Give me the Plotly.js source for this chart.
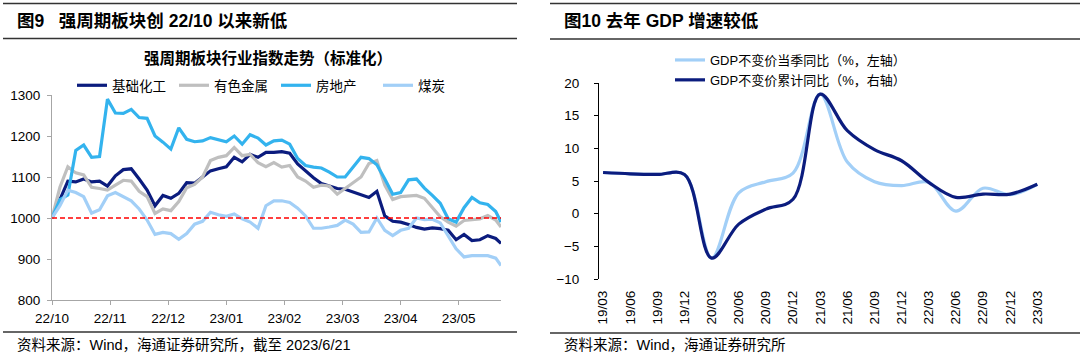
<!DOCTYPE html>
<html>
<head>
<meta charset="utf-8">
<script src="https://cdn.plot.ly/plotly-3.0.1.min.js"></script>
<style>
  html, body { margin: 0; padding: 0; background: #fff; }
  #chart { width: 1080px; height: 355px; }
</style>
</head>
<body>
<div id="chart"></div>
<script>
// ---------------- Data: left chart (trading-day index since 22/10) ----------------
const tradeDay = [0,3,6,9,12,15,18,21,24,27,30,33,36,39,42,45,48,51,54,57,60,63,66,69,72,75,78,81,84,87,90,93,96,99,102,105,108,111,114,117,120,123,126,129,132,135,138,141,144,147,150,153,156,159,162,165,168,170];
const seriesNames = ["基础化工", "有色金属", "房地产", "煤炭"];
const chemicals = [1000,1045,1090,1088,1095,1088,1090,1078,1103,1118,1120,1095,1068,1030,1055,1048,1060,1086,1085,1100,1115,1120,1125,1148,1137,1155,1148,1160,1160,1162,1158,1132,1115,1098,1084,1077,1072,1070,1064,1058,1050,1065,1005,992,990,984,977,973,976,974,970,947,960,945,947,957,950,938];
const metals = [1000,1075,1125,1110,1105,1075,1072,1068,1080,1092,1090,1065,1052,1011,1022,1018,1040,1074,1082,1100,1140,1148,1152,1172,1152,1155,1135,1125,1135,1124,1128,1100,1090,1075,1080,1078,1058,1072,1085,1100,1133,1140,1080,1045,1052,1053,1055,1048,1026,1003,990,980,994,996,998,1006,995,978];
const realEstate = [1000,1045,1056,1165,1178,1148,1150,1290,1256,1255,1265,1245,1243,1200,1185,1168,1220,1192,1186,1188,1196,1190,1186,1200,1180,1203,1195,1178,1188,1190,1180,1145,1128,1124,1122,1112,1100,1100,1125,1148,1145,1130,1095,1058,1062,1093,1095,1073,1055,1036,998,990,1025,1050,1037,1033,1016,990];
const coal = [1000,1030,1068,1062,1052,1012,1020,1054,1062,1052,1042,1022,995,960,965,962,948,962,985,992,1014,1008,1004,1010,998,990,975,1030,1042,1042,1038,1024,1005,975,975,978,982,995,985,965,966,1000,970,957,970,975,1000,996,997,988,955,925,905,908,908,908,902,884];
const baseline = 1000;
const leftTickDays = [0,22,44,66,88,110,132,154];
const leftTickLabels = ["22/10","22/11","22/12","23/01","23/02","23/03","23/04","23/05"];

// ---------------- Data: right chart (quarterly) ----------------
const quarters = ["19/03","19/06","19/09","19/12","20/03","20/06","20/09","20/12","21/03","21/06","21/09","21/12","22/03","22/06","22/09","22/12","23/03"];
const gdpQuarterly = [6.3,6.1,6.0,6.0,-6.8,3.2,4.9,6.2,18.3,7.9,4.9,4.3,4.8,0.4,3.9,2.9,4.5];
const gdpCumulative = [6.3,6.1,6.0,6.0,-6.8,-1.6,0.7,2.2,18.3,12.7,9.8,8.1,4.8,2.5,3.0,3.0,4.5];
const gdpNames = ["GDP不变价当季同比（%，左轴）", "GDP不变价累计同比（%，右轴）"];

// ---------------- Styling ----------------
const W = 1080, H = 355;
const fx = v => v / W;
const fy = v => 1 - v / H;
const LAT = "Liberation Sans, Arial, Noto Sans CJK SC, sans-serif";
const CJK = "Liberation Sans, Arial, Noto Sans CJK SC, sans-serif";
const navy = "#0B1C7E", gray = "#BFBFBF", sky = "#33B3EE", pale = "#A2CFF7";
const seriesColors = [navy, gray, sky, pale];
const leftSeries = [chemicals, metals, realEstate, coal];

const traces = [];
leftSeries.forEach((ys, k) => {
  traces.push({
    type: "scatter", mode: "lines", x: tradeDay, y: ys, name: seriesNames[k],
    xaxis: "x", yaxis: "y", legend: "legend",
    line: { color: seriesColors[k], width: 3.2 }, hoverinfo: "skip"
  });
});
traces.push({
  type: "scatter", mode: "lines", x: [tradeDay[0], tradeDay[tradeDay.length - 1]], y: [baseline, baseline],
  xaxis: "x", yaxis: "y", showlegend: false,
  line: { color: "#FF0000", width: 1.5, dash: "5px,3px" }, hoverinfo: "skip"
});
const qIdx = quarters.map((_, i) => i);
traces.push({
  type: "scatter", mode: "lines", x: qIdx, y: gdpQuarterly, name: gdpNames[0],
  xaxis: "x2", yaxis: "y2", legend: "legend2",
  line: { color: pale, width: 3.2, shape: "spline", smoothing: 1 }, hoverinfo: "skip"
});
traces.push({
  type: "scatter", mode: "lines", x: qIdx, y: gdpCumulative, name: gdpNames[1],
  xaxis: "x2", yaxis: "y2", legend: "legend2",
  line: { color: navy, width: 3.2, shape: "spline", smoothing: 1 }, hoverinfo: "skip"
});

const y2dom = [fy(279), fy(83)];
const y2range = [-10, 20];
const zeroPos = y2dom[0] + (0 - y2range[0]) / (y2range[1] - y2range[0]) * (y2dom[1] - y2dom[0]);
const x2range = [-0.15, 16.1];

const axisGray = "#A6A6A6";
const tickFont = { family: LAT, size: 13.5, color: "#000" };

const layout = {
  width: W, height: H,
  margin: { l: 0, r: 0, t: 0, b: 0 },
  paper_bgcolor: "#fff", plot_bgcolor: "rgba(0,0,0,0)",
  font: { family: CJK, color: "#000" },
  xaxis: {
    domain: [fx(52), fx(501)], range: [0, 170], anchor: "y",
    tickmode: "array", tickvals: leftTickDays, ticktext: leftTickLabels,
    ticks: "outside", ticklen: 4, tickcolor: axisGray, tickwidth: 1,
    showline: true, linecolor: axisGray, linewidth: 1,
    showgrid: false, zeroline: false, tickfont: tickFont, ticklabelstandoff: 2
  },
  yaxis: {
    domain: [fy(300), fy(95)], range: [800, 1300], anchor: "x",
    tickmode: "linear", tick0: 800, dtick: 100,
    ticks: "outside", ticklen: 4, tickcolor: axisGray, tickwidth: 1,
    showline: true, linecolor: axisGray, linewidth: 1,
    showgrid: false, zeroline: false, tickfont: tickFont, ticklabelstandoff: 4
  },
  xaxis2: {
    domain: [fx(599), fx(1040)], range: x2range, anchor: "y2",
    tickmode: "array", tickvals: qIdx, ticktext: quarters, tickangle: -90,
    ticks: "", showline: false, showgrid: false, zeroline: false,
    tickfont: tickFont, ticklabelstandoff: 8
  },
  xaxis3: {
    domain: [fx(599), fx(1040)], range: x2range, overlaying: "x2", anchor: "free", position: zeroPos,
    tickmode: "array", tickvals: qIdx, showticklabels: false,
    ticks: "outside", ticklen: 4, tickcolor: "#000", tickwidth: 1,
    showline: true, linecolor: "#000", linewidth: 1, showgrid: false, zeroline: false
  },
  yaxis2: {
    domain: y2dom, range: y2range, anchor: "x2",
    tickmode: "linear", tick0: -10, dtick: 5,
    ticks: "outside", ticklen: 4, tickcolor: "#000", tickwidth: 1,
    showline: true, linecolor: "#000", linewidth: 1,
    showgrid: false, zeroline: false, tickfont: tickFont, ticklabelstandoff: 12
  },
  legend: {
    orientation: "h", x: fx(72), xanchor: "left", y: fy(70), yanchor: "top",
    font: { family: CJK, size: 13.5, color: "#000" }, bgcolor: "rgba(0,0,0,0)",
    traceorder: "normal", entrywidth: 57, entrywidthmode: "pixels", itemclick: false
  },
  legend2: {
    orientation: "v", x: fx(670), xanchor: "left", y: fy(45), yanchor: "top",
    font: { family: CJK, size: 13, color: "#000" }, bgcolor: "rgba(0,0,0,0)",
    traceorder: "normal", tracegroupgap: 0, itemclick: false
  },
  shapes: [
    { type: "line", xref: "paper", yref: "paper", x0: fx(3), x1: fx(517), y0: fy(3.5), y1: fy(3.5), line: { color: "#333", width: 1.6 } },
    { type: "line", xref: "paper", yref: "paper", x0: fx(3), x1: fx(517), y0: fy(38.5), y1: fy(38.5), line: { color: "#333", width: 1.4 } },
    { type: "line", xref: "paper", yref: "paper", x0: fx(3), x1: fx(517), y0: fy(332), y1: fy(332), line: { color: "#333", width: 1.4 } },
    { type: "line", xref: "paper", yref: "paper", x0: fx(550), x1: fx(1080), y0: fy(3.5), y1: fy(3.5), line: { color: "#333", width: 1.6 } },
    { type: "line", xref: "paper", yref: "paper", x0: fx(550), x1: fx(1080), y0: fy(39), y1: fy(39), line: { color: "#333", width: 1.4 } },
    { type: "line", xref: "paper", yref: "paper", x0: fx(550), x1: fx(1080), y0: fy(333), y1: fy(333), line: { color: "#333", width: 1.4 } }
  ],
  annotations: [
    { xref: "paper", yref: "paper", x: fx(15), y: fy(21), xanchor: "left", yanchor: "middle", showarrow: false,
      text: "<b>图9   强周期板块创 22/10 以来新低</b>", font: { family: CJK, size: 17.5, color: "#000" } },
    { xref: "paper", yref: "paper", x: fx(562), y: fy(21), xanchor: "left", yanchor: "middle", showarrow: false,
      text: "<b>图10 去年 GDP 增速较低</b>", font: { family: CJK, size: 17.5, color: "#000" } },
    { xref: "paper", yref: "paper", x: fx(268), y: fy(58), xanchor: "center", yanchor: "middle", showarrow: false,
      text: "<b>强周期板块行业指数走势（标准化）</b>", font: { family: CJK, size: 15.5, color: "#000" } },
    { xref: "paper", yref: "paper", x: fx(15), y: fy(345), xanchor: "left", yanchor: "middle", showarrow: false,
      text: "资料来源：Wind，海通证券研究所，截至 2023/6/21", font: { family: CJK, size: 14.5, color: "#000" } },
    { xref: "paper", yref: "paper", x: fx(562), y: fy(345), xanchor: "left", yanchor: "middle", showarrow: false,
      text: "资料来源：Wind，海通证券研究所", font: { family: CJK, size: 14.5, color: "#000" } }
  ]
};

Plotly.newPlot("chart", traces, layout, { staticPlot: true, displayModeBar: false, responsive: false });
</script>
</body>
</html>
